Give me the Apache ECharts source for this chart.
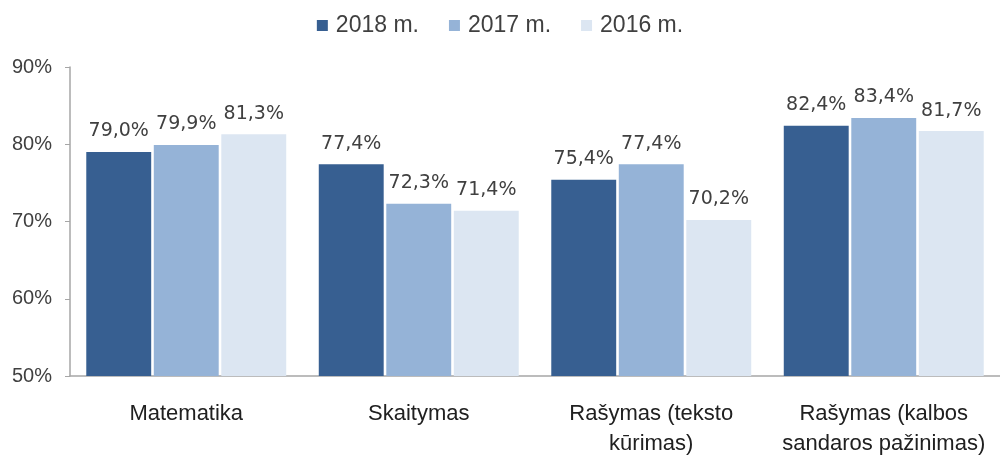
<!DOCTYPE html>
<html>
<head>
<meta charset="utf-8">
<script src="https://cdn.jsdelivr.net/npm/echarts@6/dist/echarts.min.js"></script>
<style>
  html, body { margin: 0; padding: 0; background: #fff; }
  #chart { width: 1000px; height: 459px; }
</style>
</head>
<body>
<div id="chart"></div>
<script>
const categories = ['Matematika', 'Skaitymas', 'Rašymas (teksto\nkūrimas)', 'Rašymas (kalbos\nsandaros pažinimas)']
const seriesNames = ['2018 m.', '2017 m.', '2016 m.']
const values2018 = [79.0, 77.4, 75.4, 82.4]
const values2017 = [79.9, 72.3, 77.4, 83.4]
const values2016 = [81.3, 71.4, 70.2, 81.7]
const colors = ['#375f91', '#95b3d7', '#dce6f2']

const font = '"Liberation Sans", sans-serif'
const fmt = (v) => v.toFixed(1).replace('.', ',') + '%'

const makeSeries = (name, data, color) => ({
  name,
  type: 'bar',
  data,
  barGap: '4%',
  barCategoryGap: '14%',
  itemStyle: { color },
  label: {
    show: true,
    position: 'top',
    distance: 11,
    formatter: (p) => fmt(p.value),
    color: '#404040',
    fontSize: 19,
    fontFamily: '"DejaVu Sans", sans-serif'
  }
})

const chart = echarts.init(document.getElementById('chart'))
chart.setOption({
  animation: false,
  color: colors,
  legend: {
    top: 9,
    left: 'center',
    itemWidth: 11,
    itemHeight: 11,
    itemGap: 30,
    icon: 'rect',
    textStyle: { fontSize: 23, color: '#404040', fontFamily: font, padding: [0, 0, 0, 3] },
    data: seriesNames
  },
  grid: { left: 70, right: 0, top: 67, bottom: 78, containLabel: false },
  xAxis: {
    type: 'category',
    data: categories,
    axisTick: { show: false },
    axisLine: { lineStyle: { color: '#a6a6a6', width: 1.5 } },
    axisLabel: {
      interval: 0,
      margin: 23,
      color: '#202020',
      fontSize: 22,
      lineHeight: 30,
      fontFamily: font
    }
  },
  yAxis: {
    type: 'value',
    min: 50,
    max: 90,
    interval: 10,
    splitLine: { show: false },
    axisLine: { show: true, lineStyle: { color: '#a6a6a6', width: 1.5 } },
    axisTick: { show: true, length: 5, lineStyle: { color: '#a6a6a6' } },
    axisLabel: {
      formatter: '{value}%',
      margin: 18,
      color: '#404040',
      fontSize: 20,
      fontFamily: font
    }
  },
  series: [
    makeSeries(seriesNames[0], values2018, colors[0]),
    makeSeries(seriesNames[1], values2017, colors[1]),
    makeSeries(seriesNames[2], values2016, colors[2])
  ]
})
</script>
</body>
</html>
